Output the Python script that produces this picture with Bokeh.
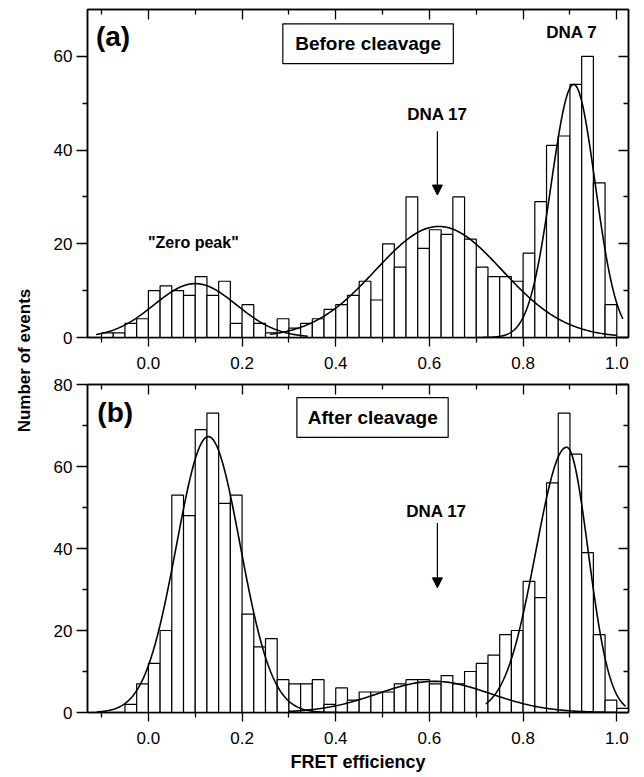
import numpy as np
from bokeh.plotting import figure
from bokeh.models import (Range1d, LinearAxis, FixedTicker, PrintfTickFormatter,
                          Label, BoxAnnotation, Arrow, NormalHead)
from bokeh.layouts import row, column
from bokeh.embed import file_html
from bokeh.resources import INLINE

FONT = "Liberation Sans"

# ---------------- data ----------------
bin_left = [-0.1, -0.075, -0.05, -0.025, 0.0, 0.025, 0.05, 0.075, 0.1, 0.125,
            0.15, 0.175, 0.2, 0.225, 0.25, 0.275, 0.3, 0.325, 0.35, 0.375,
            0.4, 0.425, 0.45, 0.475, 0.5, 0.525, 0.55, 0.575, 0.6, 0.625,
            0.65, 0.675, 0.7, 0.725, 0.75, 0.775, 0.8, 0.825, 0.85, 0.875,
            0.9, 0.925, 0.95, 0.975, 1.0]
bin_width = 0.025

counts_a = [1, 1, 3, 4, 10, 11, 10, 9, 13, 9,
            12, 3, 7, 3, 1, 4, 2, 3, 4, 6,
            7, 9, 12, 8, 20, 15, 30, 19, 23, 22,
            30, 21, 15, 13, 13, 12, 18, 29, 41, 43,
            54, 60, 33, 7, 0]

counts_b = [0, 0, 2, 7, 12, 20, 53, 48, 69, 73,
            51, 53, 24, 16, 18, 8, 7, 7, 8, 2,
            6, 3, 5, 5, 5, 7, 8, 8, 7, 9,
            7, 10, 12, 14, 19, 20, 32, 28, 56, 73,
            63, 39, 19, 3, 1]

# Gaussian fit curves (parameters)
fit_a_center = [0.100, 0.620, 0.908]
fit_a_height = [11.5, 23.7, 54.0]
fit_a_sigma_left = [0.088, 0.135, 0.048]
fit_a_sigma_right = [0.088, 0.135, 0.046]
fit_a_start = [-0.112, 0.26, 0.70]
fit_a_end = [0.34, 1.00, 1.013]

fit_b_center = [0.128, 0.610, 0.893]
fit_b_height = [67.3, 7.6, 64.7]
fit_b_sigma_left = [0.068, 0.120, 0.066]
fit_b_sigma_right = [0.068, 0.120, 0.046]
fit_b_start = [-0.11, 0.30, 0.72]
fit_b_end = [0.45, 1.00, 1.019]

x_major = [0.0, 0.2, 0.4, 0.6, 0.8, 1.0]
x_minor = [-0.1, 0.1, 0.3, 0.5, 0.7, 0.9]
y_major_a = [0, 20, 40, 60]
y_minor_a = [10, 30, 50]
y_major_b = [0, 20, 40, 60, 80]
y_minor_b = [10, 30, 50, 70]

FRAME_W = 541
FRAME_H = 328
LEFT_B = 49
RIGHT_B = 10
LAB_W = 38


def style_labelled(ax, out_major=9, out_minor=5):
    ax.axis_line_color = "black"
    ax.axis_line_width = 1.5
    ax.major_tick_line_color = "black"
    ax.major_tick_line_width = 1.3
    ax.minor_tick_line_color = "black"
    ax.minor_tick_line_width = 1.3
    ax.major_tick_in = 0
    ax.major_tick_out = out_major
    ax.minor_tick_in = 0
    ax.minor_tick_out = out_minor
    ax.major_label_text_font = FONT
    ax.major_label_text_font_size = "17px"
    ax.major_label_text_color = "black"


def style_hidden(ax):
    ax.axis_line_color = "black"
    ax.axis_line_width = 1.5
    ax.major_tick_line_color = "black"
    ax.major_tick_line_width = 1.3
    ax.minor_tick_line_color = "black"
    ax.minor_tick_line_width = 1.3
    ax.major_tick_in = 10
    ax.major_tick_out = 0
    ax.minor_tick_in = 5
    ax.minor_tick_out = 0
    ax.major_label_text_color = None
    ax.major_label_text_font_size = "0px"
    ax.major_label_standoff = 0


def make_panel(counts, ymax, ymajor, yminor, top_b, bottom_b,
               centers, heights, sl, sr, starts, ends, xlabel=None):
    p = figure(frame_width=FRAME_W, frame_height=FRAME_H,
               x_range=Range1d(-0.13, 1.025), y_range=Range1d(0, ymax),
               toolbar_location=None, output_backend="svg",
               min_border_left=LEFT_B, min_border_right=RIGHT_B,
               min_border_top=top_b, min_border_bottom=bottom_b,
               x_axis_type=None, y_axis_type=None)
    p.outline_line_color = "black"
    p.outline_line_width = 1.5
    p.background_fill_color = "white"
    p.border_fill_color = "white"

    bottom = LinearAxis(ticker=FixedTicker(ticks=x_major, minor_ticks=x_minor),
                        formatter=PrintfTickFormatter(format="%.1f"))
    style_labelled(bottom)
    bottom.major_label_standoff = 10
    if xlabel:
        bottom.axis_label = xlabel
        bottom.axis_label_text_font = FONT
        bottom.axis_label_text_font_style = "bold"
        bottom.axis_label_text_font_size = "18px"
        bottom.axis_label_text_color = "black"
        bottom.axis_label_standoff = 5
    left = LinearAxis(ticker=FixedTicker(ticks=ymajor, minor_ticks=yminor),
                      formatter=PrintfTickFormatter(format="%d"))
    style_labelled(left, out_major=11, out_minor=5)
    left.major_label_standoff = 4
    top = LinearAxis(ticker=FixedTicker(ticks=x_major, minor_ticks=x_minor))
    style_hidden(top)
    right = LinearAxis(ticker=FixedTicker(ticks=ymajor, minor_ticks=yminor))
    style_hidden(right)
    p.add_layout(bottom, "below")
    p.add_layout(left, "left")
    p.add_layout(top, "above")
    p.add_layout(right, "right")

    xc = np.array(bin_left) + bin_width / 2
    p.vbar(x=xc, width=bin_width, top=counts, bottom=0,
           fill_color="white", line_color="black", line_width=1.2)

    for c, h, s1, s2, a, b in zip(centers, heights, sl, sr, starts, ends):
        xs = np.linspace(a, b, 300)
        sig = np.where(xs < c, s1, s2)
        ys = h * np.exp(-0.5 * ((xs - c) / sig) ** 2)
        p.line(xs, ys, line_color="black", line_width=1.6)
    return p


# ---------------- panel (a) ----------------
pa = make_panel(counts_a, 70, y_major_a, y_minor_a, 9, 38,
                fit_a_center, fit_a_height, fit_a_sigma_left, fit_a_sigma_right,
                fit_a_start, fit_a_end)

pa.add_layout(Label(x=-0.112, y=67.6, text="(a)", text_align="left", text_baseline="top",
                    text_font=FONT, text_font_style="bold", text_font_size="28px",
                    text_color="black"))
pa.add_layout(BoxAnnotation(left=0.287, right=0.651, bottom=58.45, top=66.95,
                            fill_color="white", fill_alpha=1.0,
                            line_color="black", line_width=1.2, line_alpha=1.0))
pa.add_layout(Label(x=0.469, y=62.7, text="Before cleavage", text_align="center",
                    text_baseline="middle", text_font=FONT, text_font_style="bold",
                    text_font_size="19px", text_color="black"))
pa.add_layout(Label(x=0.904, y=65.0, text="DNA 7", text_align="center",
                    text_baseline="middle", text_font=FONT, text_font_style="bold",
                    text_font_size="17px", text_color="black"))
pa.add_layout(Label(x=0.617, y=47.6, text="DNA 17", text_align="center",
                    text_baseline="middle", text_font=FONT, text_font_style="bold",
                    text_font_size="17px", text_color="black"))
pa.add_layout(Arrow(end=NormalHead(size=10, fill_color="black", line_color="black"),
                    x_start=0.617, y_start=44.0, x_end=0.617, y_end=30.4,
                    line_color="black", line_width=1.2))
pa.add_layout(Label(x=0.096, y=20.2, text='"Zero peak"', text_align="center",
                    text_baseline="middle", text_font=FONT, text_font_style="bold",
                    text_font_size="16px", text_color="black"))

# ---------------- panel (b) ----------------
pb = make_panel(counts_b, 80, y_major_b, y_minor_b, 9, 56,
                fit_b_center, fit_b_height, fit_b_sigma_left, fit_b_sigma_right,
                fit_b_start, fit_b_end, xlabel="FRET efficiency")

pb.add_layout(Label(x=-0.109, y=77.0, text="(b)", text_align="left", text_baseline="top",
                    text_font=FONT, text_font_style="bold", text_font_size="28px",
                    text_color="black"))
pb.add_layout(BoxAnnotation(left=0.317, right=0.640, bottom=67.1, top=76.8,
                            fill_color="white", fill_alpha=1.0,
                            line_color="black", line_width=1.2, line_alpha=1.0))
pb.add_layout(Label(x=0.479, y=71.9, text="After cleavage", text_align="center",
                    text_baseline="middle", text_font=FONT, text_font_style="bold",
                    text_font_size="19px", text_color="black"))
pb.add_layout(Label(x=0.615, y=49.0, text="DNA 17", text_align="center",
                    text_baseline="middle", text_font=FONT, text_font_style="bold",
                    text_font_size="17px", text_color="black"))
pb.add_layout(Arrow(end=NormalHead(size=10, fill_color="black", line_color="black"),
                    x_start=0.617, y_start=46.2, x_end=0.617, y_end=30.4,
                    line_color="black", line_width=1.2))

# ---------------- shared y-axis title ----------------
H_LAB = 770
lab = figure(width=LAB_W, height=H_LAB, x_range=Range1d(0, LAB_W), y_range=Range1d(0, H_LAB),
             toolbar_location=None, output_backend="svg", min_border=0,
             x_axis_type=None, y_axis_type=None)
lab.outline_line_color = None
lab.background_fill_color = "white"
lab.border_fill_color = "white"
lab.add_layout(Label(x=23.5, y=H_LAB - 360, text="Number of events", angle=np.pi / 2,
                     text_align="center", text_baseline="middle", text_font=FONT,
                     text_font_style="bold", text_font_size="17px", text_color="black"))

layout = row(lab, column(pa, pb))

with open("out.html", "w") as f:
    f.write(file_html(layout, INLINE))
